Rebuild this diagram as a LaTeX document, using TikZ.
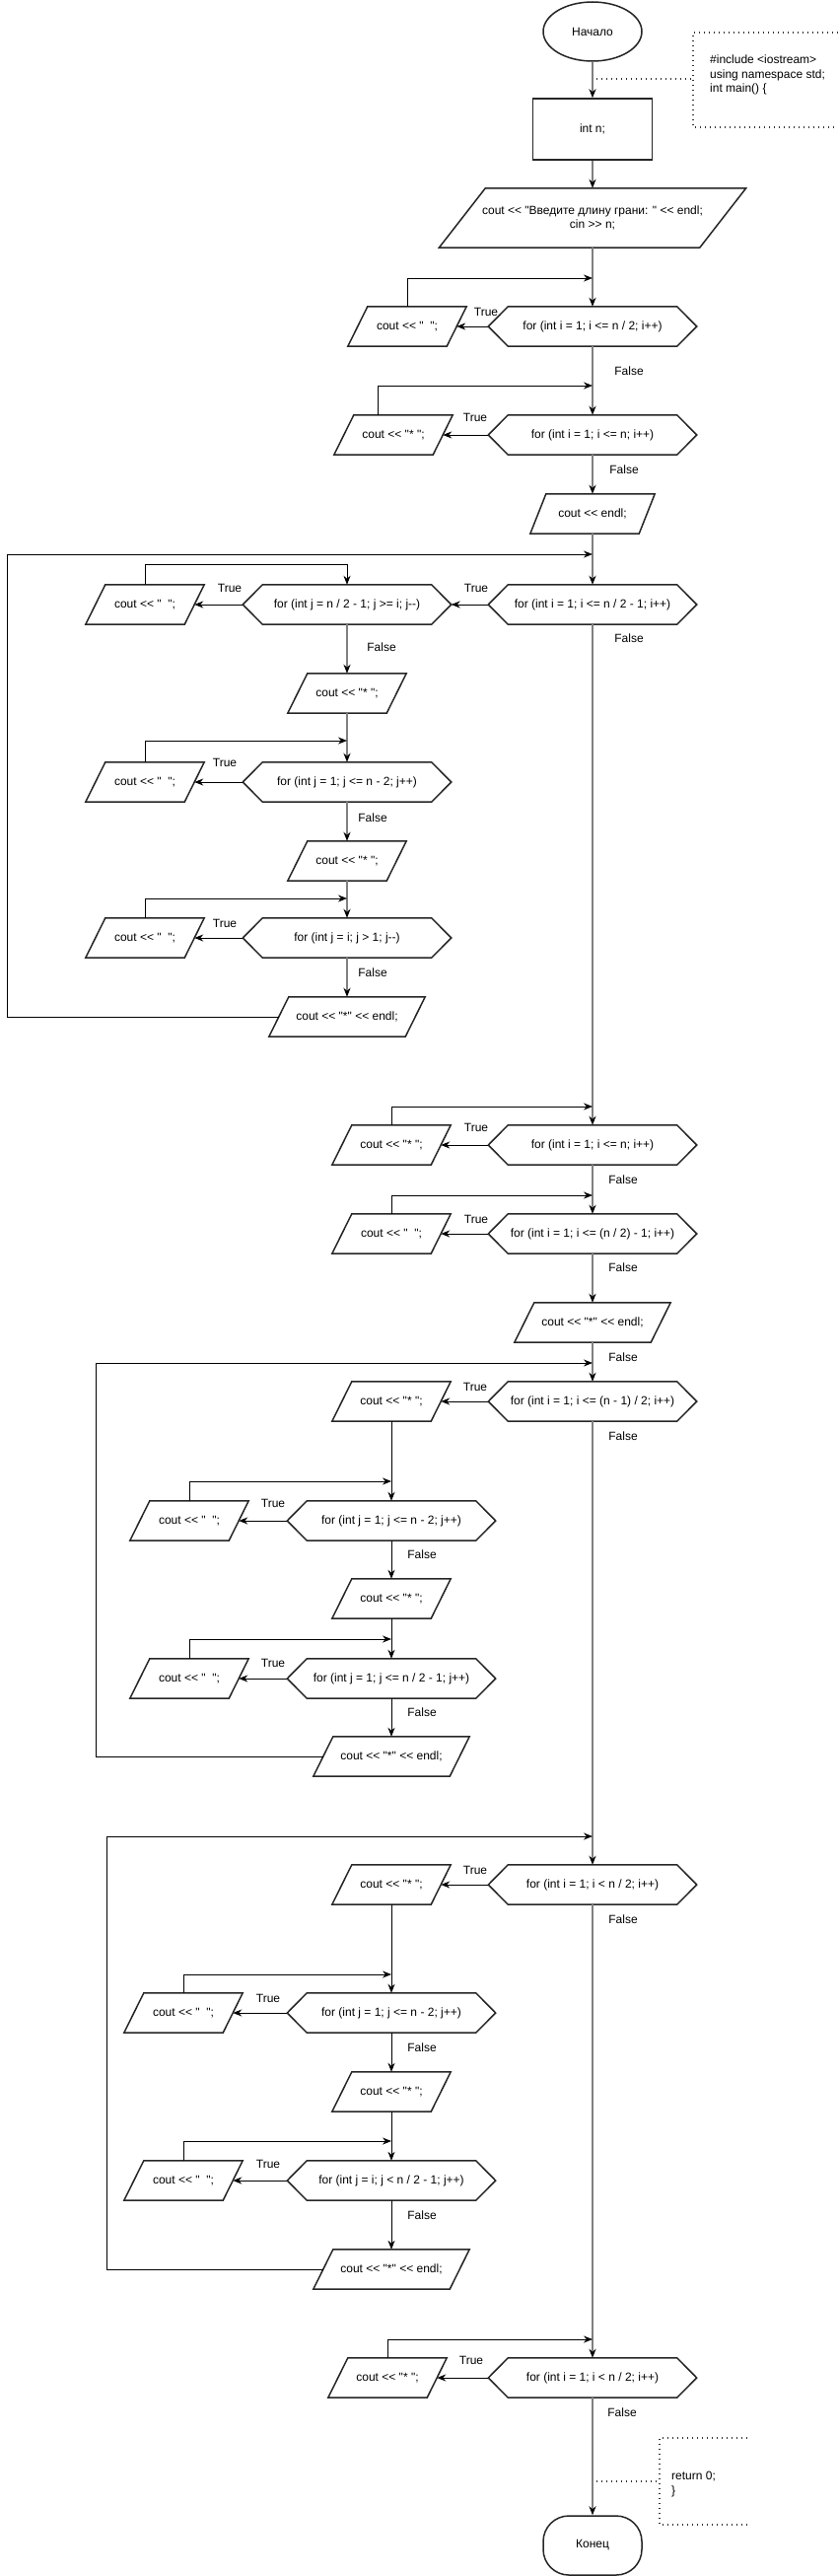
\documentclass[tikz,border=0pt]{standalone}
\usepackage{fontspec}
\setmainfont{Liberation Sans}[Ligatures=TeXOff]
\usetikzlibrary{arrows.meta,shapes.geometric}
\newcommand\hexs[1]{\draw[outl] (#1.west) -- ([xshift=20pt]#1.north west) -- ([xshift=-20pt]#1.north east) -- (#1.east) -- ([xshift=-20pt]#1.south east) -- ([xshift=20pt]#1.south west) -- cycle;}
\newcommand\pgram[2]{\draw[outl] ([xshift=-#2]#1.south west) -- ([xshift=-#2]#1.south east) -- ([xshift=#2]#1.north east) -- ([xshift=#2]#1.north west) -- cycle;}
\begin{document}
\begin{tikzpicture}[x=1pt,y=-1pt,
  every node/.style={font=\fontsize{12}{14.5}\selectfont, text=black},
  blk/.style={draw=none, inner sep=0pt},
  hexb/.style={blk, minimum width=211pt, minimum height=40pt},
  parb/.style={blk, minimum width=100pt, minimum height=40pt},
  endb/.style={blk, minimum width=138pt, minimum height=40pt},
  outl/.style={draw=black!85, line width=1.5pt, line join=miter},
  spine/.style={draw=black!50, line width=1.5pt, -{Stealth[length=9pt,width=7pt,color=black]}},
  conn/.style={draw=black, line width=1pt, -{Stealth[length=9pt,width=7pt]}},
  lbl/.style={inner sep=0pt},
  note/.style={draw=black!80, line width=1.4pt, dash pattern=on 1.4pt off 3.6pt},
]
\useasboundingbox (0,0) rectangle (850,2612);
\fill[white] (0,0) rectangle (850,2612);

% ---------- top ----------
\node[ellipse, draw=black!85, line width=1.5pt, minimum width=100pt, minimum height=60pt, inner sep=0pt] (start) at (601,32) {Начало};
\node[draw=black!85, line width=1.5pt, minimum width=121pt, minimum height=62pt, inner sep=0pt] (intn) at (601,131) {int n;};
\node[blk, minimum width=264pt, minimum height=60pt, align=center] (inp) at (601,221) {cout << "Введите длину грани: " << endl;\\cin >> n;};
\pgram{inp}{23.5pt}

\coordinate (J1) at (601,282);
\node[hexb] (h1) at (601,331) {for (int i = 1; i <= n / 2; i++)};
\node[parb] (p1) at (413,331) {cout << "\ \ ";};
\coordinate (J2) at (601,391);
\node[hexb] (h2) at (601,441) {for (int i = 1; i <= n; i++)};
\node[parb] (p2) at (399,441) {cout << "* ";};
\node[blk, minimum width=110pt, minimum height=40pt] (e1) at (601,521) {cout << endl;};
\hexs{h1}\hexs{h2}\pgram{p1}{10pt}\pgram{p2}{10pt}\pgram{e1}{8pt}

% ---------- section 1 ----------
\coordinate (J3) at (601,562);
\node[hexb] (h3) at (601,613) {for (int i = 1; i <= n / 2 - 1; i++)};
\node[hexb] (h3a) at (352,613) {for (int j = n / 2 - 1; j >= i; j--)};
\node[parb] (q3a) at (147,613) {cout << "\ \ ";};
\coordinate (K3a) at (352,572);
\node[parb] (s3a) at (352,703) {cout << "* ";};
\coordinate (K3b) at (352,751);
\node[hexb] (h3b) at (352,793) {for (int j = 1; j <= n - 2; j++)};
\node[parb] (q3b) at (147,793) {cout << "\ \ ";};
\node[parb] (s3b) at (352,873) {cout << "* ";};
\coordinate (K3c) at (352,911);
\node[hexb] (h3c) at (352,951) {for (int j = i; j > 1; j--)};
\node[parb] (q3c) at (147,951) {cout << "\ \ ";};
\node[endb] (e3) at (352,1031) {cout << "*" << endl;};
\coordinate (B3) at (7,1031);
\hexs{h3}\hexs{h3a}\hexs{h3b}\hexs{h3c}
\pgram{q3a}{10pt}\pgram{q3b}{10pt}\pgram{q3c}{10pt}\pgram{s3a}{10pt}\pgram{s3b}{10pt}\pgram{e3}{10pt}

% ---------- section 2 ----------
\coordinate (J4) at (601,1122);
\node[hexb] (h4) at (601,1161) {for (int i = 1; i <= n; i++)};
\node[parb] (p4) at (397,1161) {cout << "* ";};
\coordinate (J5) at (601,1212);
\node[hexb] (h5) at (601,1251) {for (int i = 1; i <= (n / 2) - 1; i++)};
\node[parb] (p5) at (397,1251) {cout << "\ \ ";};
\node[endb] (e5) at (601,1341) {cout << "*" << endl;};
\hexs{h4}\hexs{h5}\pgram{p4}{10pt}\pgram{p5}{10pt}\pgram{e5}{10pt}

% ---------- section 3 ----------
\coordinate (J6) at (601,1382);
\node[hexb] (h6) at (601,1421) {for (int i = 1; i <= (n - 1) / 2; i++)};
\node[parb] (p6) at (397,1421) {cout << "* ";};
\coordinate (K6a) at (397,1502);
\node[hexb] (h6a) at (397,1542) {for (int j = 1; j <= n - 2; j++)};
\node[parb] (q6a) at (192,1542) {cout << "\ \ ";};
\node[parb] (s6a) at (397,1621) {cout << "* ";};
\coordinate (K6b) at (397,1662);
\node[hexb] (h6b) at (397,1702) {for (int j = 1; j <= n / 2 - 1; j++)};
\node[parb] (q6b) at (192,1702) {cout << "\ \ ";};
\node[endb] (e6) at (397,1781) {cout << "*" << endl;};
\coordinate (B6) at (97,1781);
\hexs{h6}\hexs{h6a}\hexs{h6b}
\pgram{p6}{10pt}\pgram{q6a}{10pt}\pgram{s6a}{10pt}\pgram{q6b}{10pt}\pgram{e6}{10pt}

% ---------- section 4 ----------
\coordinate (J7) at (601,1862);
\node[hexb] (h7) at (601,1911) {for (int i = 1; i < n / 2; i++)};
\node[parb] (p7) at (397,1911) {cout << "* ";};
\coordinate (K7a) at (397,2002);
\node[hexb] (h7a) at (397,2041) {for (int j = 1; j <= n - 2; j++)};
\node[parb] (q7a) at (186,2041) {cout << "\ \ ";};
\node[parb] (s7a) at (397,2121) {cout << "* ";};
\coordinate (K7b) at (397,2171);
\node[hexb] (h7b) at (397,2211) {for (int j = i; j < n / 2 - 1; j++)};
\node[parb] (q7b) at (186,2211) {cout << "\ \ ";};
\node[endb] (e7) at (397,2301) {cout << "*" << endl;};
\coordinate (B7) at (108,2301);
\hexs{h7}\hexs{h7a}\hexs{h7b}
\pgram{p7}{10pt}\pgram{q7a}{10pt}\pgram{s7a}{10pt}\pgram{q7b}{10pt}\pgram{e7}{10pt}

% ---------- section 5 ----------
\coordinate (J8) at (601,2372);
\node[hexb] (h8) at (601,2411) {for (int i = 1; i < n / 2; i++)};
\node[parb] (p8) at (393,2411) {cout << "* ";};
\hexs{h8}\pgram{p8}{10pt}
\node[draw=black!85, line width=1.5pt, rounded corners=26pt, minimum width=100pt, minimum height=60pt, inner sep=0pt] (end) at (601,2581) {Конец};

% ---------- spine ----------
\draw[spine] (start.south) -- (intn.north);
\draw[spine] (intn.south) -- (inp.north);
\draw[spine] (inp.south) -- (h1.north);
\draw[spine] (h1.south) -- (h2.north);
\draw[spine] (h2.south) -- (e1.north);
\draw[spine] (e1.south) -- (h3.north);
\draw[spine] (h3.south) -- (h4.north);
\draw[spine] (h4.south) -- (h5.north);
\draw[spine] (h5.south) -- (e5.north);
\draw[spine] (e5.south) -- (h6.north);
\draw[spine] (h6.south) -- (h7.north);
\draw[spine] (h7.south) -- (h8.north);
\draw[spine] (h8.south) -- (end.north);
% section 1 inner verticals
\draw[spine] (h3a.south) -- (s3a.north);
\draw[spine] (s3a.south) -- (h3b.north);
\draw[spine] (h3b.south) -- (s3b.north);
\draw[spine] (s3b.south) -- (h3c.north);
\draw[spine] (h3c.south) -- (e3.north);
% sections 3, 4 inner verticals
\draw[conn] (p6.south) -- (h6a.north);
\draw[conn] (h6a.south) -- (s6a.north);
\draw[conn] (s6a.south) -- (h6b.north);
\draw[conn] (h6b.south) -- (e6.north);
\draw[conn] (p7.south) -- (h7a.north);
\draw[conn] (h7a.south) -- (s7a.north);
\draw[conn] (s7a.south) -- (h7b.north);
\draw[conn] (h7b.south) -- (e7.north);

% ---------- true branches and loops ----------
\draw[conn] (h1.west) -- (p1.east);
\draw[conn] (p1.north) |- (J1);
\draw[conn] (h2.west) -- (p2.east);
\draw[conn] ([xshift=-16pt]p2.north) |- (J2);

\draw[conn] (h3.west) -- (h3a.east);
\draw[conn] (h3a.west) -- (q3a.east);
\draw[conn] (q3a.north) |- (K3a) -- (h3a.north);
\draw[conn] (h3b.west) -- (q3b.east);
\draw[conn] (q3b.north) |- (K3b);
\draw[conn] (h3c.west) -- (q3c.east);
\draw[conn] (q3c.north) |- (K3c);
\draw[conn] (e3.west) -- (B3) |- (J3);

\draw[conn] (h4.west) -- (p4.east);
\draw[conn] (p4.north) |- (J4);
\draw[conn] (h5.west) -- (p5.east);
\draw[conn] (p5.north) |- (J5);

\draw[conn] (h6.west) -- (p6.east);
\draw[conn] (h6a.west) -- (q6a.east);
\draw[conn] (q6a.north) |- (K6a);
\draw[conn] (h6b.west) -- (q6b.east);
\draw[conn] (q6b.north) |- (K6b);
\draw[conn] (e6.west) -- (B6) |- (J6);

\draw[conn] (h7.west) -- (p7.east);
\draw[conn] (h7a.west) -- (q7a.east);
\draw[conn] (q7a.north) |- (K7a);
\draw[conn] (h7b.west) -- (q7b.east);
\draw[conn] (q7b.north) |- (K7b);
\draw[conn] (e7.west) -- (B7) |- (J7);

\draw[conn] (h8.west) -- (p8.east);
\draw[conn] (p8.north) |- (J8);

% ---------- labels ----------
\foreach \x/\y/\t in {493/316/True, 482/423/True, 638/376/False, 633/476/False,
  483/596/True, 233/596/True, 638/647/False, 387/656/False, 228/773/True, 378/829/False, 228/936/True, 378/986/False,
  483/1143/True, 632/1196/False, 483/1236/True, 632/1285/False,
  632/1376/False, 482/1406/True, 632/1456/False, 277/1524/True, 428/1576/False, 277/1686/True, 428/1736/False,
  482/1896/True, 632/1946/False, 272/2026/True, 428/2076/False, 272/2194/True, 428/2246/False,
  478/2393/True, 631/2446/False}
  \node[lbl] (lb-\x-\y) at (\x,\y) {\t};

% ---------- comments ----------
\draw[note] (850,33) -- (703,33) -- (703,129) -- (850,129);
\coordinate (c1a) at (605,80);
\coordinate (c1b) at (703,80);
\draw[note] (c1a) -- (c1b);
\node[lbl, anchor=west, align=left] (cm1) at (720,76) {\#include <iostream>\\using namespace std;\\int main() \{};

\draw[note] (758,2472) -- (669,2472) -- (669,2560) -- (758,2560);
\coordinate (c2a) at (605,2516);
\coordinate (c2b) at (669,2516);
\draw[note] (c2a) -- (c2b);
\node[lbl, anchor=west, align=left] (cm2) at (681,2519) {return 0;\\\}};
\end{tikzpicture}
\end{document}
